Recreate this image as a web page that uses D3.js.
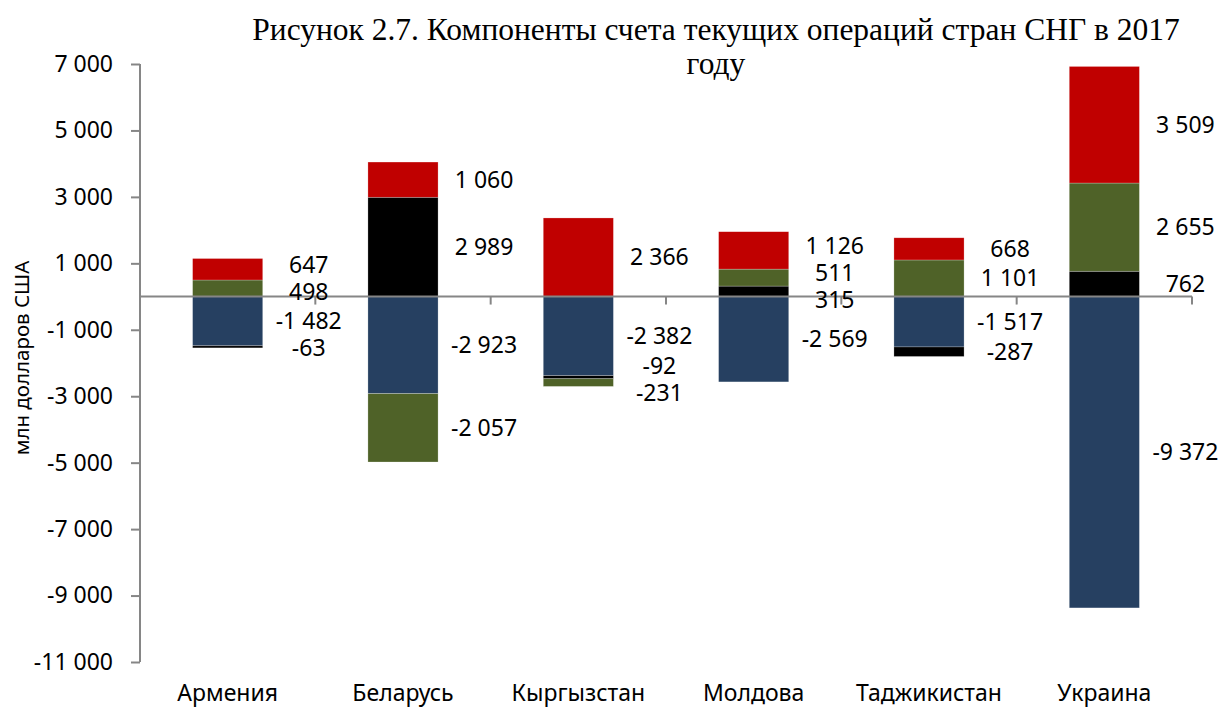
<!DOCTYPE html>
<html>
<head>
<meta charset="utf-8">
<script src="https://cdn.jsdelivr.net/npm/d3@7"></script>
<style>
  body { margin: 0; background: #fff; }
  svg { display: block; }
</style>
</head>
<body>
<svg width="1226" height="708"></svg>
<script>
// countries and components of the current account, mln USD, 2017
const countries = ["Армения", "Беларусь", "Кыргызстан", "Молдова", "Таджикистан", "Украина"];
const goods     = [-1482, -2923, -2382, -2569, -1517, -9372];
const services  = [-63, 2989, -92, 315, -287, 762];
const primary   = [498, -2057, -231, 511, 1101, 2655];
const secondary = [647, 1060, 2366, 1126, 668, 3509];
const yTicks = [7000, 5000, 3000, 1000, -1000, -3000, -5000, -7000, -9000, -11000];

const keys = ["goods", "services", "primary", "secondary"];
const colors = { goods: "#264061", services: "#000000", primary: "#4f6228", secondary: "#c00000" };

var rows = countries.map((c, i) => ({
  country: c, goods: goods[i], services: services[i], primary: primary[i], secondary: secondary[i]
}));

var svg = d3.select("svg");
var plotLeft = 140, plotRight = 1192, plotTop = 64, plotBottom = 662;
var fontSize = 23;

var x = d3.scaleBand()
  .domain(countries)
  .range([plotLeft, plotRight])
  .paddingInner(0.6)
  .paddingOuter(0.3);

var y = d3.scaleLinear()
  .domain([-11000, 7000])
  .range([plotBottom, plotTop]);

var fmt = d3.formatLocale({ decimal: ",", thousands: " ", grouping: [3], currency: ["", ""], minus: "-" }).format(",d");

var series = d3.stack().keys(keys).offset(d3.stackOffsetDiverging)(rows);

// bars
svg.append("g").selectAll("g")
  .data(series)
  .join("g")
    .attr("fill", d => colors[d.key])
  .selectAll("rect")
  .data(d => d)
  .join("rect")
    .attr("x", d => x(d.data.country))
    .attr("width", x.bandwidth())
    .attr("y", d => y(Math.max(d[0], d[1])))
    .attr("height", d => Math.abs(y(d[0]) - y(d[1])))
    .attr("stroke", "#ffffff")
    .attr("stroke-opacity", 0.4)
    .attr("stroke-width", 0.6);

// y axis
var yAxis = svg.append("g")
  .attr("transform", "translate(" + plotLeft + ",0)")
  .call(d3.axisLeft(y).tickValues(yTicks).tickFormat(fmt).tickSize(9).tickPadding(18));
yAxis.select(".domain").attr("stroke", "#868686").attr("stroke-width", 2)
  .attr("d", "M0," + plotTop + "V" + plotBottom);
yAxis.selectAll(".tick line").attr("stroke", "#868686").attr("stroke-width", 2);
yAxis.selectAll(".tick text")
  .attr("font-family", "Noto Sans")
  .attr("font-size", fontSize)
  .attr("fill", "#000");

// zero line with category separators
svg.append("line")
  .attr("x1", plotLeft).attr("x2", plotRight)
  .attr("y1", y(0)).attr("y2", y(0))
  .attr("stroke", "#868686").attr("stroke-width", 2);

var sepX = countries.map((c, i) => x(c) - x.step() * x.paddingOuter() + x.step());
svg.append("g").selectAll("line")
  .data(sepX)
  .join("line")
    .attr("x1", d => d).attr("x2", d => d)
    .attr("y1", y(0)).attr("y2", y(0) + 8)
    .attr("stroke", "#868686").attr("stroke-width", 2);

// category labels
svg.append("g").selectAll("text")
  .data(countries)
  .join("text")
    .attr("x", d => x(d) + x.bandwidth() / 2)
    .attr("y", 701)
    .attr("text-anchor", "middle")
    .attr("font-family", "Noto Sans")
    .attr("font-size", fontSize)
    .text(d => d);

// value labels: midpoint of segment, pushed apart when they overlap
var labels = [];
countries.forEach((c, i) => {
  var items = [];
  series.forEach(s => {
    var d = s[i];
    items.push({ country: c, value: d.data[s.key], y: y((d[0] + d[1]) / 2) });
  });
  items.sort((a, b) => a.y - b.y);
  for (var it = 0; it < 40; it++) {
    for (var k = 1; k < items.length; k++) {
      var gap = items[k].y - items[k - 1].y;
      if (gap < 27) {
        var push = (27 - gap) / 2;
        items[k].y += push;
        items[k - 1].y -= push;
      }
    }
  }
  labels = labels.concat(items);
});

svg.append("g").selectAll("text")
  .data(labels)
  .join("text")
    .attr("x", d => x(d.country) + x.bandwidth() + 46)
    .attr("y", d => d.y)
    .attr("dy", "0.35em")
    .attr("text-anchor", "middle")
    .attr("font-family", "Noto Sans")
    .attr("font-size", fontSize)
    .text(d => fmt(d.value));

// y axis title
svg.append("text")
  .attr("transform", "translate(29," + ((plotTop + plotBottom) / 2 - 5) + ") rotate(-90)")
  .attr("text-anchor", "middle")
  .attr("font-family", "Noto Sans")
  .attr("font-size", 20.5)
  .text("млн долларов США");

// title
var title = svg.append("text")
  .attr("text-anchor", "middle")
  .attr("font-family", "Liberation Serif")
  .attr("font-size", 31.5);
title.append("tspan").attr("x", 716).attr("y", 40).text("Рисунок 2.7. Компоненты счета текущих операций стран СНГ в 2017");
title.append("tspan").attr("x", 716).attr("y", 74).text("году");
</script>
</body>
</html>
